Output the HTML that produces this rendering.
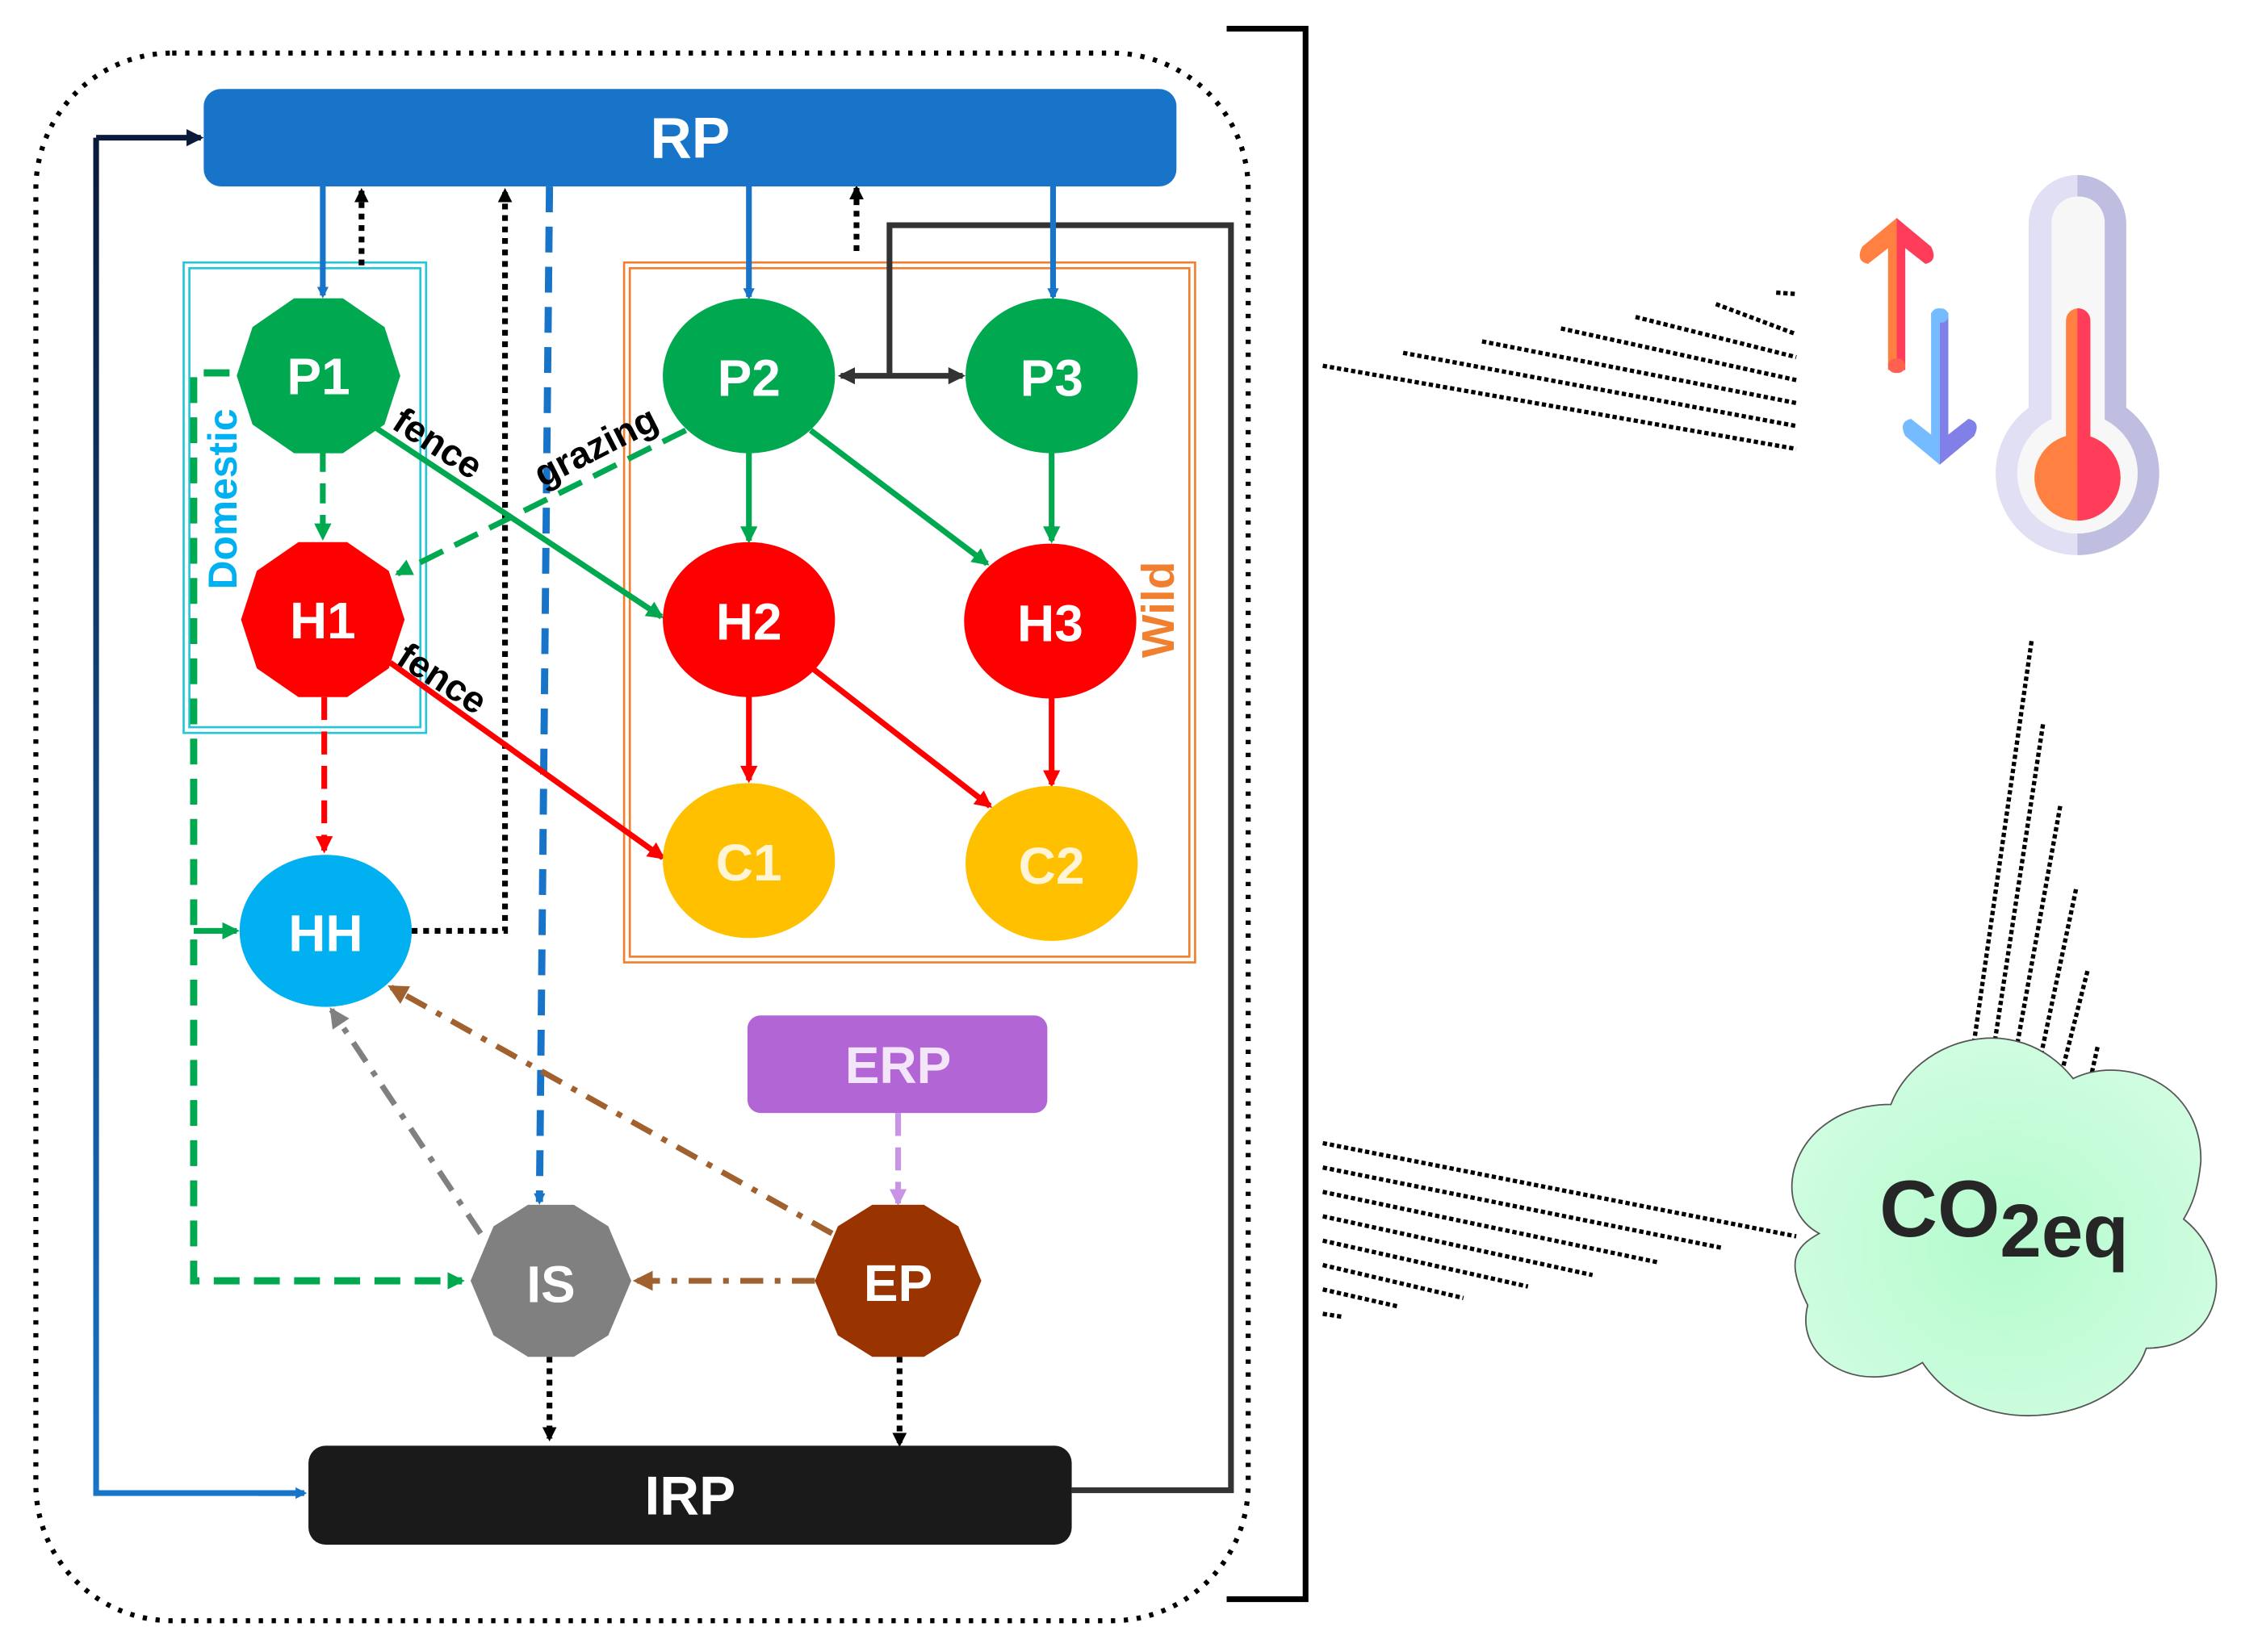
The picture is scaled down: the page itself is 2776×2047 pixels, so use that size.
<!DOCTYPE html>
<html><head><meta charset="utf-8"><style>html,body{margin:0;padding:0;background:#fff}svg{display:block}</style></head>
<body>
<svg width="2776" height="2047" viewBox="0 0 1562 1151.8" xmlns="http://www.w3.org/2000/svg" font-family="Liberation Sans, sans-serif">
<defs>
<marker id="ab" markerWidth="8" markerHeight="8" refX="6" refY="4" orient="auto" markerUnits="userSpaceOnUse" viewBox="0 0 8 8"><path d="M0,0 L8,4 L0,8 z" fill="#1874c8"/></marker>
<marker id="ak" markerWidth="10" markerHeight="10" refX="8" refY="5" orient="auto" markerUnits="userSpaceOnUse" viewBox="0 0 10 10"><path d="M0,0 L10,5 L0,10 z" fill="#000"/></marker>
<marker id="ag" markerWidth="12" markerHeight="12" refX="10" refY="6" orient="auto" markerUnits="userSpaceOnUse" viewBox="0 0 12 12"><path d="M0,0 L12,6 L0,12 z" fill="#00a84f"/></marker>
<marker id="ar" markerWidth="12" markerHeight="12" refX="10" refY="6" orient="auto" markerUnits="userSpaceOnUse" viewBox="0 0 12 12"><path d="M0,0 L12,6 L0,12 z" fill="#ff0000"/></marker>
<marker id="ad" markerWidth="12" markerHeight="12" refX="10" refY="6" orient="auto" markerUnits="userSpaceOnUse" viewBox="0 0 12 12"><path d="M0,0 L12,6 L0,12 z" fill="#333"/></marker>
<marker id="ads" markerWidth="12" markerHeight="12" refX="2" refY="6" orient="auto" markerUnits="userSpaceOnUse" viewBox="0 0 12 12"><path d="M12,0 L0,6 L12,12 z" fill="#333"/></marker>
<marker id="agr" markerWidth="14" markerHeight="14" refX="12" refY="7" orient="auto" markerUnits="userSpaceOnUse" viewBox="0 0 14 14"><path d="M0,0 L14,7 L0,14 z" fill="#808080"/></marker>
<marker id="abr" markerWidth="14" markerHeight="14" refX="12" refY="7" orient="auto" markerUnits="userSpaceOnUse" viewBox="0 0 14 14"><path d="M0,0 L14,7 L0,14 z" fill="#a0612e"/></marker>
<marker id="al" markerWidth="12" markerHeight="12" refX="10" refY="6" orient="auto" markerUnits="userSpaceOnUse" viewBox="0 0 12 12"><path d="M0,0 L12,6 L0,12 z" fill="#c994e6"/></marker>
<marker id="an" markerWidth="12" markerHeight="12" refX="10" refY="6" orient="auto" markerUnits="userSpaceOnUse" viewBox="0 0 12 12"><path d="M0,0 L12,6 L0,12 z" fill="#0a1a3a"/></marker>
<linearGradient id="lg" x1="0" y1="0" x2="0" y2="1"><stop offset="0" stop-color="#0a1a3a"/><stop offset="1" stop-color="#1874c8"/></linearGradient>
<radialGradient id="cg" cx="0.5" cy="0.55" r="0.6"><stop offset="0" stop-color="#b4fbcd"/><stop offset="1" stop-color="#d2fde2"/></radialGradient>
<clipPath id="rh"><rect x="1448" y="100" width="80" height="300"/></clipPath>
</defs>

<rect x="25" y="37" width="845" height="1093" rx="95" fill="none" stroke="#000" stroke-width="3.5" stroke-dasharray="3,6"/>
<path d="M855,20 H910 V1115 H855" fill="none" stroke="#000" stroke-width="4"/>

<rect x="128" y="183" width="169" height="328" fill="none" stroke="#27c5d8" stroke-width="1.5"/>
<rect x="132" y="187" width="161" height="320" fill="none" stroke="#27c5d8" stroke-width="1.5"/>
<rect x="435" y="183" width="398" height="488" fill="none" stroke="#f08030" stroke-width="1.5"/>
<rect x="439" y="187" width="390" height="480" fill="none" stroke="#f08030" stroke-width="1.5"/>
<text transform="translate(165,348) rotate(-90)" text-anchor="middle" font-size="28" font-weight="bold" fill="#00b0f0">Domestic</text>
<text transform="translate(818,425) rotate(-90)" text-anchor="middle" font-size="32" font-weight="bold" fill="#f08030">Wild</text>

<path d="M67,96 H140" stroke="#0a1a3a" stroke-width="4" fill="none" marker-end="url(#an)"/>
<path d="M67,96 V1041 H212" stroke="url(#lg)" stroke-width="4" fill="none"/>
<path d="M180,1041 H212" stroke="#1874c8" stroke-width="4" fill="none" marker-end="url(#ab)"/>

<path d="M747,1039 H858 V157 H620 V262" stroke="#333" stroke-width="4" fill="none"/>
<line x1="586" y1="262" x2="671" y2="262" stroke="#333" stroke-width="4" marker-start="url(#ads)" marker-end="url(#ad)"/>

<line x1="225" y1="130" x2="225" y2="206" stroke="#1874c8" stroke-width="4" marker-end="url(#ab)"/>
<line x1="522" y1="130" x2="522" y2="207" stroke="#1874c8" stroke-width="4" marker-end="url(#ab)"/>
<line x1="734" y1="130" x2="734" y2="207" stroke="#1874c8" stroke-width="4" marker-end="url(#ab)"/>
<line x1="383" y1="130" x2="376" y2="838" stroke="#1874c8" stroke-width="5" stroke-dasharray="18,10" marker-end="url(#ab)"/>
<line x1="252" y1="185" x2="252" y2="133" stroke="#000" stroke-width="4" stroke-dasharray="4,4" marker-end="url(#ak)"/>
<line x1="597" y1="175" x2="597" y2="131" stroke="#000" stroke-width="4" stroke-dasharray="4,4" marker-end="url(#ak)"/>
<path d="M287,649 H352 V133" stroke="#000" stroke-width="4" stroke-dasharray="4,4" fill="none" marker-end="url(#ak)"/>

<line x1="225" y1="315" x2="225" y2="375" stroke="#00a84f" stroke-width="4" stroke-dasharray="14,8" marker-end="url(#ag)"/>
<line x1="260" y1="297" x2="461" y2="430" stroke="#00a84f" stroke-width="4" marker-end="url(#ag)"/>
<line x1="478" y1="300" x2="277" y2="400" stroke="#00a84f" stroke-width="4" stroke-dasharray="18,9" marker-end="url(#ag)"/>
<line x1="522" y1="315" x2="522" y2="377" stroke="#00a84f" stroke-width="4" marker-end="url(#ag)"/>
<line x1="565" y1="300" x2="688" y2="393" stroke="#00a84f" stroke-width="4" marker-end="url(#ag)"/>
<line x1="733" y1="315" x2="733" y2="377" stroke="#00a84f" stroke-width="4" marker-end="url(#ag)"/>
<path d="M160,260 H135 V893 H322" stroke="#00a84f" stroke-width="5" stroke-dasharray="18,10" fill="none" marker-end="url(#ag)"/>
<path d="M135,649 H165" stroke="#00a84f" stroke-width="4" fill="none" marker-end="url(#ag)"/>

<line x1="226" y1="486" x2="226" y2="593" stroke="#ff0000" stroke-width="4" stroke-dasharray="16,8" marker-end="url(#ar)"/>
<line x1="272" y1="462" x2="462" y2="598" stroke="#ff0000" stroke-width="4" marker-end="url(#ar)"/>
<line x1="522" y1="485" x2="522" y2="544" stroke="#ff0000" stroke-width="4" marker-end="url(#ar)"/>
<line x1="565" y1="465" x2="690" y2="562" stroke="#ff0000" stroke-width="4" marker-end="url(#ar)"/>
<line x1="733" y1="486" x2="733" y2="547" stroke="#ff0000" stroke-width="4" marker-end="url(#ar)"/>

<line x1="335" y1="860" x2="231" y2="704" stroke="#808080" stroke-width="4" stroke-dasharray="16,8,4,8" marker-end="url(#agr)"/>
<line x1="580" y1="860" x2="272" y2="688" stroke="#a0612e" stroke-width="4" stroke-dasharray="16,8,4,8" marker-end="url(#abr)"/>
<line x1="568" y1="893" x2="443" y2="893" stroke="#a0612e" stroke-width="4" stroke-dasharray="16,8,4,8" marker-end="url(#abr)"/>
<line x1="626" y1="776" x2="626" y2="839" stroke="#c994e6" stroke-width="4" stroke-dasharray="16,8" marker-end="url(#al)"/>
<line x1="383" y1="946" x2="383" y2="1003" stroke="#000" stroke-width="4" stroke-dasharray="4,4" marker-end="url(#ak)"/>
<line x1="627" y1="946" x2="627" y2="1007" stroke="#000" stroke-width="4" stroke-dasharray="4,4" marker-end="url(#ak)"/>

<rect x="142" y="62" width="678" height="68" rx="12" fill="#1874c8"/>
<text x="481" y="110" text-anchor="middle" font-size="40" font-weight="bold" fill="#fff">RP</text>
<rect x="215" y="1008" width="532" height="69" rx="12" fill="#1a1a1a"/>
<text x="481" y="1056" text-anchor="middle" font-size="38" font-weight="bold" fill="#fff">IRP</text>
<rect x="521" y="708" width="209" height="68" rx="9" fill="#b266d6"/>
<text x="626" y="755" text-anchor="middle" font-size="36" font-weight="bold" fill="#f3e6fa">ERP</text>

<polygon points="279,262 268,296 239,316 205,316 176,296 165,262 176,228 205,208 239,208 268,228" fill="#00a84f"/>
<polygon points="282,432 271,466 242,486 208,486 179,466 168,432 179,398 208,378 242,378 271,398" fill="#ff0000"/>
<polygon points="440,893 424,931 400,946 368,946 344,931 328,893 344,855 368,840 400,840 424,855" fill="#808080"/>
<polygon points="684,893 668,931 644,946 608,946 584,931 568,893 584,855 608,840 644,840 668,855" fill="#993300"/>
<ellipse cx="522" cy="262" rx="60" ry="54" fill="#00a84f"/>
<ellipse cx="733" cy="262" rx="60" ry="54" fill="#00a84f"/>
<ellipse cx="522" cy="432" rx="60" ry="54" fill="#ff0000"/>
<ellipse cx="732" cy="433" rx="60" ry="54" fill="#ff0000"/>
<ellipse cx="522" cy="600" rx="60" ry="54" fill="#ffc000"/>
<ellipse cx="733" cy="602" rx="60" ry="54" fill="#ffc000"/>
<ellipse cx="227" cy="649" rx="60" ry="53" fill="#00b0f0"/>
<g font-size="36" font-weight="bold" fill="#fff" text-anchor="middle">
<text x="222" y="275">P1</text><text x="225" y="445">H1</text>
<text x="522" y="276">P2</text><text x="733" y="276">P3</text>
<text x="522" y="446">H2</text><text x="732" y="447">H3</text>
<text x="522" y="614" fill="#fff5d6">C1</text><text x="733" y="616" fill="#fff5d6">C2</text>
<text x="227" y="663">HH</text><text x="384" y="908">IS</text><text x="626" y="907">EP</text>
</g>
<g font-size="26" font-weight="bold" fill="#000">
<text transform="translate(272,298) rotate(33)">fence</text>
<text transform="translate(378,340) rotate(-27)">grazing</text>
<text transform="translate(275,462) rotate(33)">fence</text>
</g>

<g stroke="#000" stroke-width="3" stroke-dasharray="3,2" fill="none">
<line x1="922" y1="255" x2="1252" y2="313"/>
<line x1="978" y1="246" x2="1252" y2="297"/>
<line x1="1033" y1="238" x2="1252" y2="281"/>
<line x1="1088" y1="229" x2="1252" y2="265"/>
<line x1="1140" y1="221" x2="1252" y2="249"/>
<line x1="1196" y1="212" x2="1252" y2="233"/>
<line x1="1238" y1="204" x2="1252" y2="205"/>
<line x1="922" y1="797" x2="1252" y2="862"/>
<line x1="922" y1="814" x2="1200" y2="870"/>
<line x1="922" y1="831" x2="1155" y2="880"/>
<line x1="922" y1="848" x2="1110" y2="889"/>
<line x1="922" y1="865" x2="1065" y2="897"/>
<line x1="922" y1="882" x2="1020" y2="905"/>
<line x1="922" y1="899" x2="975" y2="911"/>
<line x1="922" y1="916" x2="935" y2="918"/>
<line x1="1416" y1="447" x2="1374" y2="740"/>
<line x1="1424" y1="505" x2="1388" y2="742"/>
<line x1="1436" y1="562" x2="1403" y2="745"/>
<line x1="1447" y1="620" x2="1420" y2="748"/>
<line x1="1455" y1="677" x2="1437" y2="748"/>
<line x1="1462" y1="730" x2="1458" y2="748"/>
</g>

<!-- thermometer -->
<g fill="#e0dff3">
<rect x="1414" y="122" width="68" height="200" rx="34"/>
<circle cx="1448" cy="330" r="57"/>
</g>
<g fill="#bfbde0" clip-path="url(#rh)">
<rect x="1414" y="122" width="68" height="200" rx="34"/>
<circle cx="1448" cy="330" r="57"/>
</g>
<rect x="1430" y="137" width="37" height="190" rx="18" fill="#f7f7f7"/>
<circle cx="1448" cy="330" r="42" fill="#f7f7f7"/>
<rect x="1440" y="215" width="17" height="110" rx="8.5" fill="#ff8040"/>
<circle cx="1448" cy="333" r="30" fill="#ff8040"/>
<g clip-path="url(#rh)" fill="#ff3d5a">
<rect x="1440" y="215" width="17" height="110" rx="8.5"/>
<circle cx="1448" cy="333" r="30"/>
</g>
<path d="M1322,152 L1298,172 Q1293,182 1302,184 L1316,173 V258 H1322 Z" fill="#ff8040"/>
<path d="M1322,152 L1346,172 Q1351,182 1342,184 L1328,173 V258 H1322 Z" fill="#ff3d5a"/>
<rect x="1316" y="250" width="12" height="10" rx="5" fill="#ff6050"/>
<path d="M1352,324 L1328,304 Q1323,294 1332,292 L1346,303 V218 H1352 Z" fill="#74bcff"/>
<path d="M1352,324 L1376,304 Q1381,294 1372,292 L1358,303 V218 H1352 Z" fill="#8080e8"/>
<rect x="1346" y="215" width="12" height="10" rx="5" fill="#74bcff"/>

<path d="M1318,770 C1335,725 1405,702 1445,752 C1480,735 1535,755 1534,810 C1532,830 1528,840 1522,850 C1560,880 1550,940 1496,940 C1480,990 1380,1010 1340,950 C1300,975 1250,950 1260,910 C1245,880 1250,870 1268,860 C1230,840 1250,770 1318,770 Z" fill="url(#cg)" stroke="#555" stroke-width="1"/>
<text x="1310" y="862" font-size="56" font-weight="bold" fill="#262626">CO<tspan font-size="52" dy="14">2eq</tspan></text>
</svg>
</body></html>
